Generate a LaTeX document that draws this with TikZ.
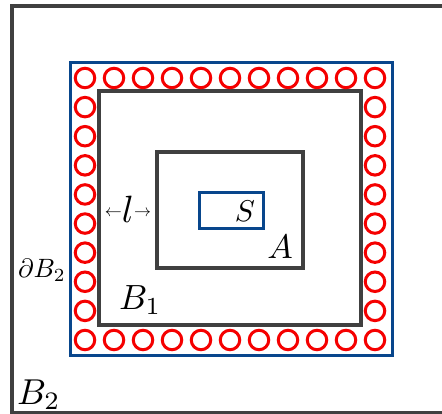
\documentclass[tikz,border=0pt]{standalone}
\usepackage{amsmath}
\definecolor{frameGray}{RGB}{64,64,64}
\definecolor{setBlue}{RGB}{8,70,140}
\definecolor{ringRed}{RGB}{245,0,0}
\begin{document}
\begin{tikzpicture}[x=1pt,y=-1pt,
  grayframe/.style={draw=frameGray,line width=3.2pt},
  blueframe/.style={draw=setBlue,line width=3pt},
  ring/.style={circle,draw=ringRed,line width=3pt,minimum size=19.5pt,inner sep=0pt},
  lab/.style={inner sep=0pt,outer sep=0pt,text=black}]
\useasboundingbox (0,0) rectangle (442,414);
\begin{scope}
\clip (0,0) rectangle (442,414);
% outer region B2
\draw[grayframe] (460,6) -- (12,6) -- (12,412.5) -- (460,412.5);
\end{scope}
% blue boundary of B2 inner
\draw[blueframe] (70,63) rectangle (392,355);
% B1
\draw[grayframe] (99,91) rectangle (361,325);
% A
\draw[grayframe] (157,152) rectangle (303,268);
% S
\draw[blueframe] (199,193) rectangle (263,229);
% rings
\foreach \i in {0,...,10}{
  \node[ring] (top\i) at ({85+29*\i},78) {};
  \node[ring] (bot\i) at ({85+29*\i},340) {};
}
\foreach \j in {1,...,8}{
  \node[ring] (lft\j) at (85,{78+29.11*\j}) {};
  \node[ring] (rgt\j) at (375,{78+29.11*\j}) {};
}
% labels
\node[lab,anchor=base west] (lB2) at (17,404) {\scalebox{3.6}{$B_2$}};
\node[lab,anchor=base west] (lB1) at (119,309) {\scalebox{3.5}{$B_1$}};
\node[lab,anchor=base] (lA) at (280,259) {\scalebox{3.4}{$A$}};
\node[lab,anchor=base] (lS) at (245,222) {\scalebox{3.0}{$S$}};
\node[lab,anchor=base] (ldB) at (42,278) {\scalebox{2.65}{$\partial B_2$}};
\node[lab,anchor=base] (ll) at (128,223) {\raisebox{6pt}{\scalebox{1.7}{$\leftarrow$}}\scalebox{3.8}{$l$}\raisebox{6pt}{\scalebox{1.7}{$\rightarrow$}}};
\end{tikzpicture}
\end{document}
